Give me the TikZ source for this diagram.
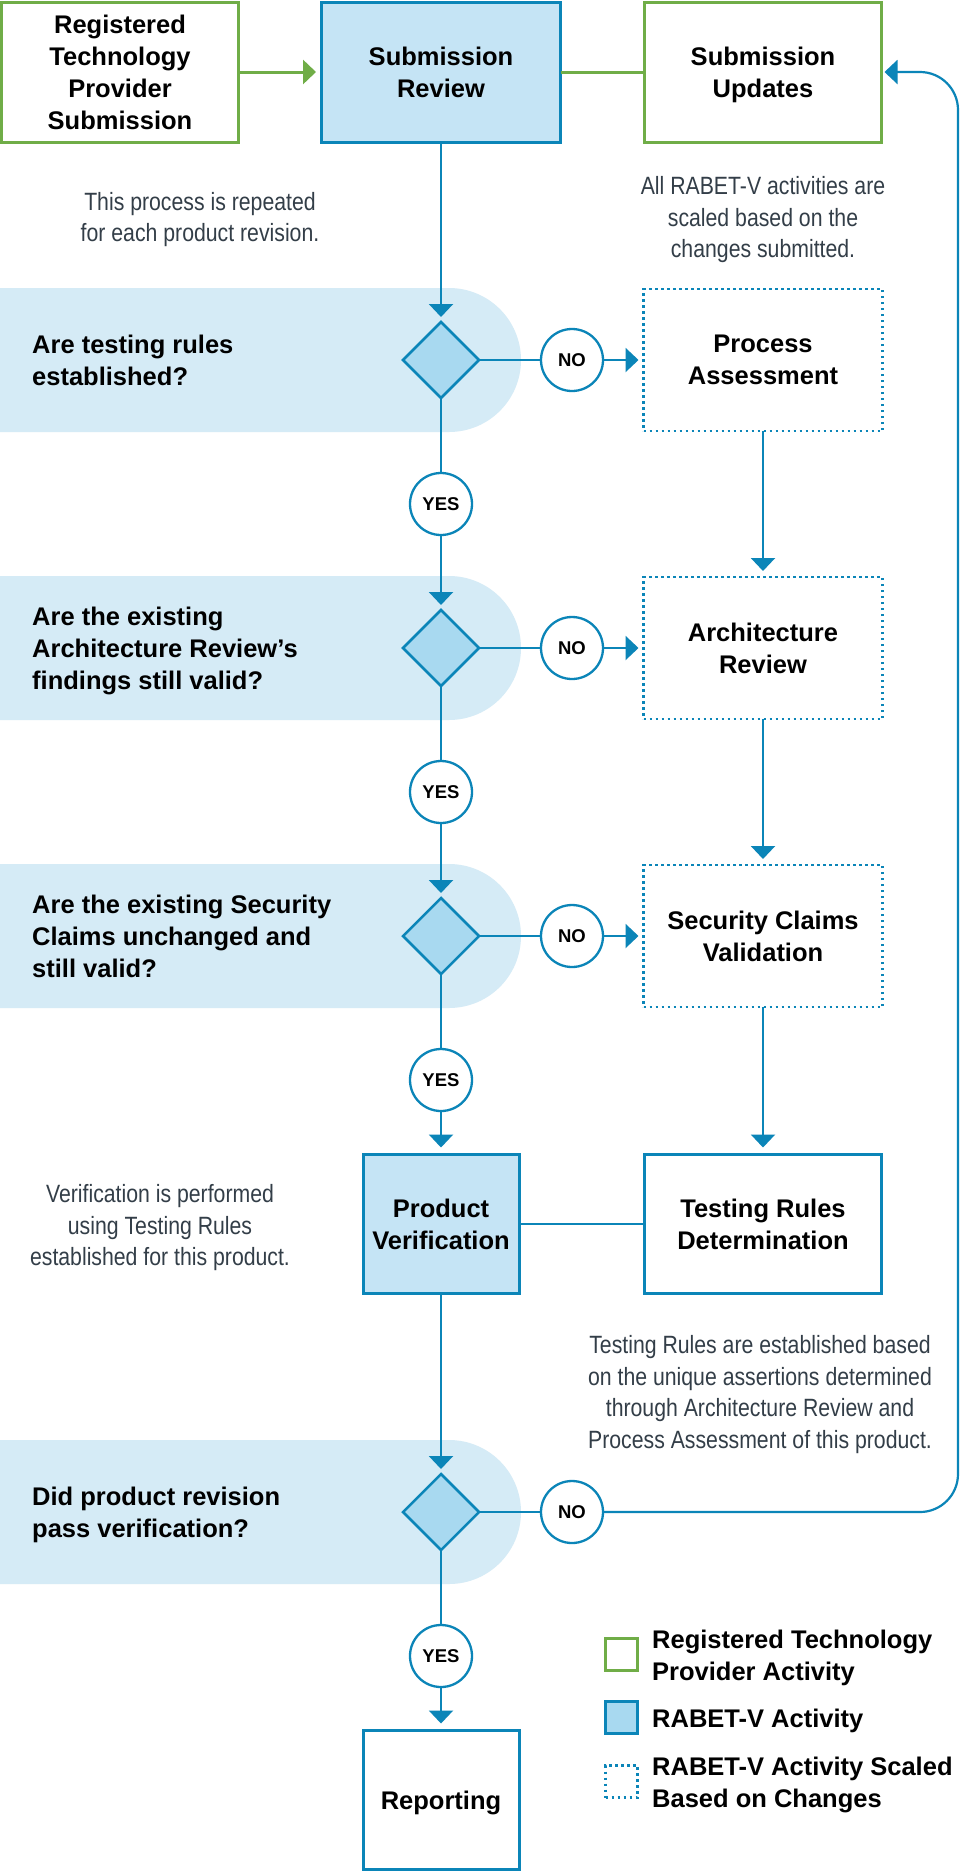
\documentclass[tikz,border=0pt]{standalone}
\usepackage{fontspec}
\setmainfont{Liberation Sans}
\newfontfamily\notefont{Liberation Sans}[FakeStretch=0.85]
\usetikzlibrary{arrows.meta,shapes.geometric}
\definecolor{rblue}{HTML}{0B85B8}
\definecolor{rgreen}{HTML}{70AD47}
\definecolor{rband}{HTML}{D5EBF6}
\definecolor{rdia}{HTML}{A8D9F0}
\definecolor{rhead}{HTML}{C5E4F5}
\definecolor{rnote}{HTML}{333E48}
\begin{document}
\begin{tikzpicture}[x=1pt,y=-1pt,
  boldtxt/.style={font=\fontsize{25.5}{32}\selectfont\bfseries, align=center, text depth=0pt},
  gbox/.style={draw=rgreen, line width=3pt, fill=white, minimum width=237pt, minimum height=140pt, inner sep=0pt, outer sep=0pt, boldtxt},
  bbox/.style={draw=rblue, line width=3pt, fill=white, minimum width=237pt, minimum height=139pt, inner sep=0pt, outer sep=0pt, boldtxt},
  dbox/.style={draw=rblue, line width=2.5pt, dash pattern=on 2.5pt off 3.5pt, fill=white, minimum width=239pt, minimum height=142pt, inner sep=0pt, outer sep=0pt, boldtxt},
  dia/.style={diamond, draw=rblue, fill=rdia, line width=2.5pt, minimum width=76pt, minimum height=76pt, inner sep=0pt, outer sep=0pt},
  yn/.style={circle, draw=rblue, fill=white, line width=2.3pt, minimum size=62pt, inner sep=0pt, outer sep=0pt, font=\fontsize{18.5}{20}\selectfont\bfseries},
  conn/.style={draw=rblue, line width=2.2pt},
  arr/.style={conn, -{Triangle[length=13pt,width=24pt]}},
  gline/.style={draw=rgreen, line width=3pt},
  garr/.style={gline, -{Triangle[length=13pt,width=24pt]}},
  note/.style={font=\notefont\fontsize{25}{31.5}\selectfont, text=rnote, align=center, inner sep=0pt, text depth=0pt},
  qtxt/.style={boldtxt, anchor=west, align=left, inner sep=0pt},
  lgsq/.style={minimum width=32pt, minimum height=32pt, inner sep=0pt, outer sep=0pt}
]
\useasboundingbox (0,0) rectangle (963,1872);
\clip (0,0) rectangle (963,1872);
\fill[white] (0,0) rectangle (963,1872);

% bands
\foreach \yy in {360,648,936,1512}
  \fill[rband, rounded corners=72pt] (-150,\yy-72) rectangle (521,\yy+72);

% top row
\node[gbox] (rtp) at (120,72) {Registered\\Technology\\Provider\\Submission};
\node[bbox, fill=rhead, minimum width=239pt, minimum height=140pt] (sr) at (441,72) {Submission\\Review};
\node[gbox] (su) at (763,72) {Submission\\Updates};

% notes
\node[note] (n_rep) at (200,217) {This process is repeated\\for each product revision.};
\node[note] (n_all) at (763,217) {All RABET-V activities are\\scaled based on the\\changes submitted.};
\node[note] (n_ver) at (160,1225) {Verification is performed\\using Testing Rules\\established for this product.};
\node[note] (n_tr) at (760,1392) {Testing Rules are established based\\on the unique assertions determined\\through Architecture Review and\\Process Assessment of this product.};

% questions
\node[qtxt] (q1) at (32,360) {Are testing rules\\established?};
\node[qtxt] (q2) at (32,648) {Are the existing\\Architecture Review’s\\findings still valid?};
\node[qtxt] (q3) at (32,936) {Are the existing Security\\Claims unchanged and\\still valid?};
\node[qtxt] (q4) at (32,1512) {Did product revision\\pass verification?};

% diamonds
\node[dia] (d1) at (441,360) {};
\node[dia] (d2) at (441,648) {};
\node[dia] (d3) at (441,936) {};
\node[dia] (d4) at (441,1512) {};

% NO / YES
\node[yn] (n1) at (572,360) {NO};
\node[yn] (n2) at (572,648) {NO};
\node[yn] (n3) at (572,936) {NO};
\node[yn] (n4) at (572,1512) {NO};
\node[yn] (y1) at (441,504) {YES};
\node[yn] (y2) at (441,792) {YES};
\node[yn] (y3) at (441,1080) {YES};
\node[yn] (y4) at (441,1656) {YES};

% right boxes
\node[dbox] (pa) at (763,360) {Process\\Assessment};
\node[dbox] (ar) at (763,648) {Architecture\\Review};
\node[dbox] (scv) at (763,936) {Security Claims\\Validation};
\node[bbox] (trd) at (763,1224) {Testing Rules\\Determination};
\node[bbox, fill=rhead, minimum width=156pt] (pv) at (441,1224) {Product\\Verification};
\node[bbox, minimum width=156pt] (rep) at (441,1800) {Reporting};

% connectors
\draw[garr, shorten >=5.5pt] (rtp) -- (sr);
\draw[gline] (sr) -- (su);
\draw[arr, shorten >=5pt] (sr) -- (d1);
\draw[conn] (d1) -- (n1);
\draw[arr, shorten >=5pt] (n1) -- (pa);
\draw[conn] (d1) -- (y1);
\draw[arr, shorten >=5pt] (y1) -- (d2);
\draw[arr, shorten >=6pt] (pa) -- (ar);
\draw[conn] (d2) -- (n2);
\draw[arr, shorten >=5pt] (n2) -- (ar);
\draw[conn] (d2) -- (y2);
\draw[arr, shorten >=5pt] (y2) -- (d3);
\draw[arr, shorten >=6pt] (ar) -- (scv);
\draw[conn] (d3) -- (n3);
\draw[arr, shorten >=5pt] (n3) -- (scv);
\draw[conn] (d3) -- (y3);
\draw[arr, shorten >=7pt] (y3) -- (pv);
\draw[arr, shorten >=7pt] (scv) -- (trd);
\draw[conn] (pv) -- (trd);
\draw[arr, shorten >=5pt] (pv) -- (d4);
\draw[conn] (d4) -- (n4);
\coordinate (c1) at (958,1512);
\coordinate (c2) at (958,72);
\draw[arr, rounded corners=38pt, shorten >=3pt] (n4.east) -- (c1) -- (c2) -- (su.east);
\draw[conn] (d4) -- (y4);
\draw[arr, shorten >=7pt] (y4) -- (rep);

% legend
\node[lgsq, draw=rgreen, line width=3pt, fill=white] (lg1) at (621.5,1654) {};
\node[lgsq, draw=rblue, line width=3pt, fill=rdia] (lg2) at (621.5,1717.5) {};
\node[lgsq, draw=rblue, line width=2.5pt, dash pattern=on 2.5pt off 3.5pt, fill=white] (lg3) at (621.5,1781.5) {};
\node[qtxt] (lt1) at (652,1655) {Registered Technology\\Provider Activity};
\node[qtxt] (lt2) at (652,1718) {RABET-V Activity};
\node[qtxt] (lt3) at (652,1782) {RABET-V Activity Scaled\\Based on Changes};
\end{tikzpicture}
\end{document}
